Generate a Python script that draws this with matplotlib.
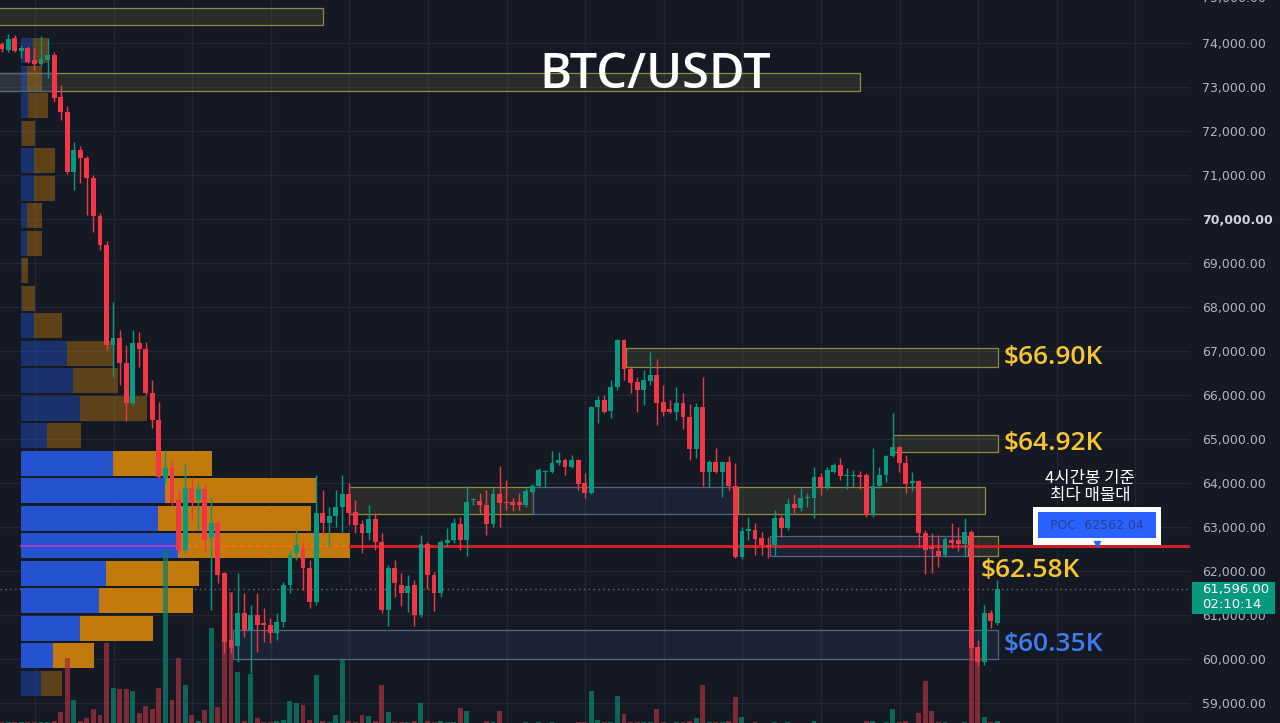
import numpy as np
import matplotlib
matplotlib.use("Agg")
import matplotlib.pyplot as plt
import matplotlib.transforms as mtransforms
from matplotlib.patches import Rectangle

# BTC/USDT 4h candles, oldest first
opens = [73977, 73841, 74107, 73825, 73879, 73613, 73515, 73613, 73727, 72780,
         72439, 71075, 71568, 71379, 70925, 70068, 69409, 67136, 67295, 66727,
         65818, 67182, 67045, 66045, 65432, 64113, 64341, 63613, 62477, 63886,
         63613, 63863, 62750, 63091, 61954, 60431, 60295, 61045, 60659, 61000,
         60818, 60772, 60590, 60841, 61681, 62409, 62500, 62068, 61295, 63318,
         63091, 63250, 63454, 63750, 63341, 63068, 62863, 63182, 62659, 61113,
         62068, 61681, 61500, 61681, 61000, 62613, 61909, 61500, 62636, 62704,
         63068, 62704, 63613, 63590, 63500, 63068, 63750, 63568, 63568, 63568,
         63500, 63795, 63932, 64250, 64250, 64454, 64522, 64363, 64522, 63999,
         63773, 65727, 65886, 65636, 66182, 67250, 66590, 66295, 66113, 66318,
         66454, 65841, 65681, 65613, 65818, 65500, 64772, 65727, 64250, 64477,
         64250, 64477, 63932, 62318, 62909, 62931, 62750, 62590, 62590, 63204,
         62977, 63522, 63431, 63659, 63659, 64136, 63909, 64250, 64409, 64159,
         64159, 64181, 64181, 63272, 63932, 64181, 64613, 64818, 64454, 63999,
         64045, 62863, 62545, 62454, 62363, 62704, 62704, 62613, 62886, 60272,
         59931, 61045, 60818]
highs = [74029, 74204, 74181, 73954, 73931, 73879, 74159, 74107, 73802, 73045,
         72568, 71757, 71659, 71432, 71000, 70136, 69500, 68113, 67477, 67136,
         67477, 67432, 67204, 66341, 65841, 64750, 64522, 63841, 64454, 64113,
         63999, 63954, 63681, 63159, 61977, 61500, 61954, 61500, 61227, 61500,
         61159, 60931, 61045, 61750, 62477, 62931, 62650, 62250, 64181, 63841,
         63454, 63841, 64181, 63999, 63613, 63159, 63500, 63318, 62863, 62136,
         62250, 61954, 61909, 61795, 62818, 62659, 61977, 62704, 62977, 63204,
         63227, 63932, 63659, 63773, 63841, 63886, 64386, 64068, 63659, 63773,
         63886, 63977, 64341, 64295, 64727, 64704, 64568, 64636, 64545, 64227,
         65750, 65977, 65999, 66341, 67272, 67272, 66636, 66409, 66568, 66977,
         66818, 66227, 65886, 66182, 66045, 65795, 65818, 66409, 64522, 64795,
         64500, 64613, 64454, 62999, 63227, 63091, 62886, 62772, 63386, 63272,
         63659, 63750, 63886, 63773, 64363, 64227, 64363, 64454, 64568, 64340,
         64295, 64273, 64227, 64795, 64363, 64636, 65590, 64840, 64636, 64250,
         64068, 62931, 62863, 62818, 62772, 63091, 63000, 63204, 62931, 60431,
         61227, 61113, 61795]
lows = [73802, 73802, 73802, 73652, 73538, 73386, 73477, 73197, 72666, 72250,
        71023, 70659, 70818, 70091, 69711, 69295, 67023, 66409, 66227, 65409,
        65773, 66636, 65999, 65250, 64113, 64000, 63500, 62409, 62409, 63136,
        62932, 62409, 61113, 61727, 60136, 60136, 59931, 60500, 59681, 60159,
        60386, 60363, 60431, 60727, 61500, 62250, 61568, 61159, 61227, 62818,
        62545, 63000, 62863, 63045, 62863, 62409, 62704, 62477, 61045, 60750,
        61409, 61204, 61068, 60750, 60954, 61590, 61091, 61409, 62545, 62636,
        62477, 62340, 63500, 63318, 62818, 62999, 62999, 63386, 63363, 63386,
        63454, 63773, 63909, 63909, 64227, 64409, 64181, 64340, 63841, 63659,
        63750, 65363, 65590, 65477, 66113, 66341, 66045, 65613, 65772, 66227,
        65318, 65522, 65590, 65431, 65227, 64522, 64568, 63931, 63909, 64227,
        63681, 63841, 62295, 62272, 62704, 62363, 62363, 62295, 62340, 62772,
        62931, 63318, 63363, 63454, 63204, 63727, 63863, 64227, 64068, 63863,
        63909, 63863, 63227, 63227, 63886, 64022, 64590, 64250, 63772, 63818,
        62545, 61931, 61954, 62091, 62318, 62522, 62454, 62318, 59977, 59840,
        59863, 60704, 60772]
closes = [73857, 74084, 73825, 73879, 73575, 73522, 73629, 73727, 72743, 72439,
          71075, 71568, 71379, 70925, 70068, 69409, 67136, 67295, 66727, 65818,
          67182, 67045, 66045, 65432, 64136, 64341, 63545, 62477, 63886, 63545,
          63863, 62704, 63091, 61909, 60386, 60250, 61045, 60659, 61000, 60772,
          60772, 60590, 60841, 61681, 62363, 62590, 62068, 61295, 63318, 63091,
          63250, 63454, 63750, 63318, 63045, 62863, 63182, 62659, 61113, 62068,
          61727, 61500, 61659, 61000, 62613, 61909, 61500, 62659, 62704, 63091,
          62704, 63568, 63636, 63500, 63068, 63750, 63545, 63545, 63500, 63500,
          63818, 63932, 64295, 64273, 64454, 64522, 64363, 64522, 63977, 63773,
          65727, 65886, 65613, 66182, 67250, 66590, 66272, 66113, 66341, 66454,
          65818, 65613, 65613, 65818, 65500, 64772, 65727, 64250, 64477, 64250,
          64477, 63932, 62318, 62909, 62954, 62727, 62590, 62545, 63204, 62977,
          63522, 63431, 63659, 63681, 64136, 63909, 64295, 64409, 64159, 64181,
          64181, 64136, 63272, 63932, 64181, 64613, 64818, 64454, 63977, 64045,
          62863, 62477, 62500, 62340, 62727, 62636, 62613, 62886, 60250, 59931,
          61045, 60863, 61596]
volumes = [40, 40, 40, 40, 40, 40, 40, 40, 80, 440,
           2600, 920, 80, 200, 560, 320, 3200, 1400, 1360, 1360,
           1280, 400, 680, 560, 1400, 6920, 920, 2600, 1520, 320,
           80, 520, 3800, 640, 4400, 5240, 2040, 80, 1960, 200,
           40, 40, 80, 120, 880, 800, 720, 120, 1920, 80,
           40, 320, 2520, 80, 40, 320, 280, 80, 1520, 440,
           40, 40, 40, 80, 800, 80, 40, 80, 40, 40,
           600, 480, 20, 20, 80, 40, 480, 20, 20, 20,
           40, 20, 40, 20, 40, 20, 20, 20, 40, 40,
           1280, 120, 40, 40, 1080, 360, 40, 40, 40, 40,
           560, 40, 20, 40, 40, 80, 200, 1520, 40, 40,
           40, 80, 1040, 240, 20, 40, 20, 20, 40, 20,
           40, 20, 20, 20, 80, 20, 20, 20, 20, 20,
           20, 20, 80, 80, 20, 40, 560, 40, 80, 20,
           400, 1680, 480, 40, 40, 20, 20, 40, 3800, 3040,
           240, 40, 80]

# volume profile (rows of 625 USDT from the top), up / down volume
vp_top = 74136
vp_step = 625
vp_buy = [1200, 600, 650, 100, 1300, 1300, 600, 600, 100, 100, 1300, 4600,
          5200, 5900, 2600, 9200, 14400, 13700, 15700, 8500, 7800, 5900, 3200, 2000]
vp_sell = [1500, 1500, 2050, 1300, 2100, 2100, 1500, 1500, 600, 1300, 2800, 4600,
           4500, 6700, 3400, 9900, 15100, 15300, 17200, 9300, 9400, 7300, 4100, 2100]
value_area_rows = range(15, 23)
poc_price = 62562.04
countdown = "02:10:14"

# zones: low, high, first candle, last candle, kind
zones = [
    (74409, 74795, -1, 49.1, "supply"),
    (72909, 73318, -1, 131.0, "supply"),
    (72909, 73318, -1, 7.7, "demand"),
    (66636, 67068, 95.3, 152.1, "supply"),
    (64705, 65091, 136.1, 152.1, "supply"),
    (63295, 63909, 53.0, 81.1, "supply"),
    (63295, 63909, 81.1, 112.4, "demand"),
    (63295, 63909, 112.4, 150.1, "supply"),
    (62341, 62795, 117.3, 147.5, "demand"),
    (62341, 62795, 147.5, 152.1, "supply"),
    (60000, 60659, 35.3, 152.1, "demand"),
]
level_values = [66900, 64920, 62580, 60350]
level_y = [66852, 64898, 62000, 60330]
level_x = [152.9, 152.9, 149.4, 152.9]
level_colors = ["#f5c532", "#f5c532", "#f5c532", "#3f7cf2"]

BG = "#151924"
UP = "#089981"
DOWN = "#f23645"

fig = plt.figure(figsize=(12.8, 7.23), dpi=100, facecolor=BG)
ax = fig.add_axes([0, 0, 1190 / 1280, 1])
ax.set_facecolor(BG)
ax.set_axisbelow(True)
for s in ax.spines.values():
    s.set_visible(False)

n = len(closes)
x = np.arange(n)
o = np.array(opens)
c = np.array(closes)
up = c >= o
cols = np.where(up, UP, DOWN)

# zones
for lo, hi, x0, x1, kind in zones:
    if kind == "supply":
        fc, ec, a = "#a09a50", "#8f8a3c", 0.15
    else:
        fc, ec, a = "#3d5a8a", "#56657f", 0.16
    ax.add_patch(Rectangle((x0, lo), x1 - x0, hi - lo, facecolor=fc, alpha=a,
                           edgecolor="none", zorder=1))
    ax.add_patch(Rectangle((x0, lo), x1 - x0, hi - lo, facecolor="none",
                           edgecolor=ec, lw=0.9, zorder=1.1))

# volume profile on the left
px0 = 21 / 1190
vp_scale = 1 / (100 * 1190)
vp_trans = mtransforms.blended_transform_factory(
    mtransforms.Affine2D().scale(vp_scale, 1).translate(px0, 0) + ax.transAxes,
    ax.transData)
centers = [vp_top - vp_step * (r + 0.5) for r in range(len(vp_buy))]
for r, yc in enumerate(centers):
    a = 1.0 if r in value_area_rows else 0.42
    ax.barh(yc, vp_buy[r], height=vp_step * 0.9, left=0, color="#2553cf",
            alpha=a, transform=vp_trans, zorder=2)
    ax.barh(yc, vp_sell[r], height=vp_step * 0.9, left=vp_buy[r], color="#c27a0c",
            alpha=a, transform=vp_trans, zorder=2)

poc_row = int(np.argmax(np.array(vp_buy) + np.array(vp_sell)))
ax.plot([0, vp_buy[poc_row]], [poc_price, poc_price], color="#b040c8", lw=1.3,
        transform=vp_trans, zorder=2.2)
poc_end = vp_buy[poc_row] + vp_sell[poc_row]
ax.plot([vp_buy[poc_row], poc_end], [poc_price, poc_price], color="#ff6a10", lw=1.6,
        ls=(0, (2, 1.5)), transform=vp_trans, zorder=2.2)
ax.axhline(poc_price, xmin=px0 + poc_end * vp_scale, xmax=1, color="#cc2029",
           lw=2.2, zorder=3)

# volume bars
vol_trans = mtransforms.blended_transform_factory(
    ax.transData, mtransforms.Affine2D().scale(1, 1 / 28920) + ax.transAxes)
vcols = np.where(up, "#0b7f6d", "#a0313d")
ax.bar(x, volumes, width=0.75, bottom=0, color=vcols, alpha=0.75,
       transform=vol_trans, zorder=2.5)

# last price dotted line
ax.axhline(closes[-1], color="#6a6d78", lw=1, ls=(0, (1, 2.5)), zorder=1.5)

# candles
ax.vlines(x, lows, highs, colors=cols, lw=1, zorder=4)
body_lo = np.minimum(o, c)
body_h = np.maximum(np.abs(c - o), 25)
ax.bar(x, body_h, bottom=body_lo, width=0.74, color=cols, zorder=4.1)

# level labels
for v, yv, xv, col in zip(level_values, level_y, level_x, level_colors):
    ax.text(xv, yv, f"${v / 1000:.2f}K", color=col, fontsize=19,
            family="Open Sans", fontweight="semibold", ha="left", va="center",
            zorder=6)

# POC box
ax.add_patch(Rectangle((157.5, 62590), 19.5, 864, facecolor="white",
                       edgecolor="none", zorder=6))
ax.add_patch(Rectangle((158.2, 62750), 18.0, 591, facecolor="#2962ff",
                       edgecolor="none", zorder=6.1))
ax.text(167.2, 63045, f"POC: {poc_price:.2f}", color="#2b3f86", fontsize=9,
        ha="center", va="center", zorder=6.2)
ax.plot(167.2, 62610, marker="v", ms=5, color="#2962ff", zorder=6.2)
ax.text(166.2, 63909, "4시간봉 기준\n최다 매물대", color="white", fontsize=12,
        family=["Noto Sans CJK KR", "DejaVu Sans"], fontweight="medium",
        ha="center", va="center", linespacing=1.0, zorder=6)

# title
ax.text(0.551, 0.896, "BTC/USDT", transform=ax.transAxes, color="white",
        fontsize=35, family="Open Sans", fontweight="semibold", ha="center",
        va="center", zorder=6)

# axes
ax.set_xlim(-0.26, 181.4)
ax.set_ylim(58545, 74977)
yt = np.arange(59000, 75000, 1000)
ax.set_yticks(yt)
ax.set_yticklabels([f"{v:,.2f}" for v in yt])
ax.yaxis.tick_right()
ax.tick_params(axis="y", length=0, pad=8.6, labelsize=9, labelcolor="#b2b5be")
for lab, v in zip(ax.get_yticklabels(), yt):
    if v == 70000:
        lab.set_fontweight("bold")
        lab.set_color("#d1d4dc")
ax.set_xticks(np.arange(5.08, 182, 12))
ax.tick_params(axis="x", length=0, labelbottom=False)
ax.grid(True, color="#232733", lw=1)

# top label, cut by the figure edge as in the source
ax.text(1 + 12 / 1190, 75000, "75,000.00", transform=mtransforms.blended_transform_factory(
    ax.transAxes, ax.transData), color="#b2b5be", fontsize=9, ha="left",
    va="center", clip_on=False)

# last price tag
tag_trans = mtransforms.blended_transform_factory(ax.transAxes, ax.transData)
ax.add_patch(Rectangle((1192 / 1190, 61023), 83 / 1190, 727, facecolor=UP,
                       edgecolor="none", transform=tag_trans, clip_on=False, zorder=7))
ax.text(1 + 12 / 1190, 61568, f"{closes[-1]:,.2f}", transform=tag_trans, color="white",
        fontsize=9.5, ha="left", va="center", clip_on=False, zorder=8)
ax.text(1 + 12 / 1190, 61227, countdown, transform=tag_trans, color="white",
        fontsize=9.5, ha="left", va="center", clip_on=False, zorder=8)

fig.savefig("out.png", dpi=100, facecolor=BG)
